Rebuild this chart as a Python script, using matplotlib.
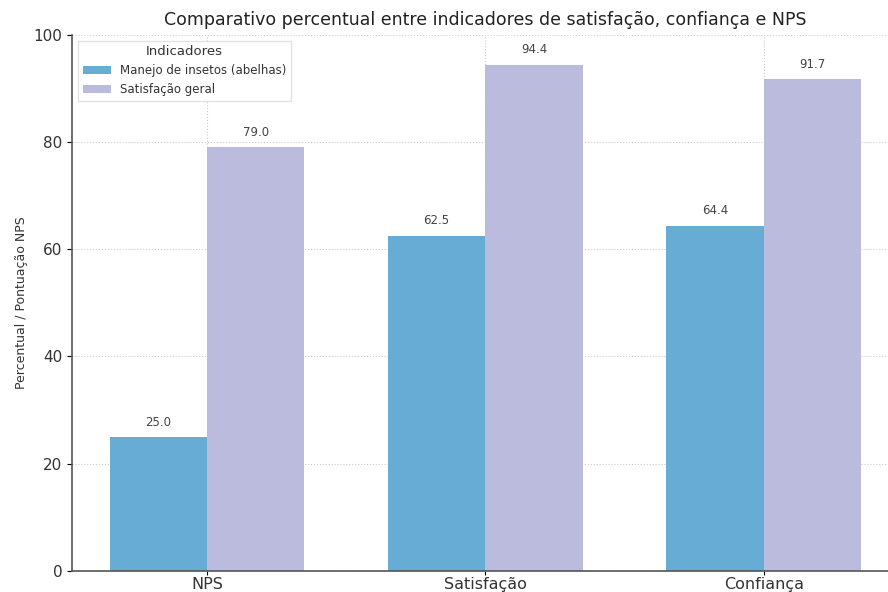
import matplotlib.pyplot as plt
import numpy as np

categorias = ["NPS", "Satisfação", "Confiança"]
manejo = [25.0, 62.5, 64.4]
satisfacao_geral = [79.0, 94.4, 91.7]
series_labels = ["Manejo de insetos (abelhas)", "Satisfação geral"]
cores = ["#67acd5", "#bbbcdd"]

fig = plt.figure(figsize=(8.88, 5.92), dpi=100)
ax = fig.add_axes([0.081, 0.0355, 0.931, 0.906])

x = np.arange(len(categorias))
w = 0.35
b1 = ax.bar(x - w / 2, manejo, w, color=cores[0], label=series_labels[0])
b2 = ax.bar(x + w / 2, satisfacao_geral, w, color=cores[1], label=series_labels[1])

for bars in (b1, b2):
    for r in bars:
        ax.annotate(f"{r.get_height():.1f}", (r.get_x() + r.get_width() / 2, r.get_height()),
                    xytext=(0, 6), textcoords="offset points", ha="center", va="bottom",
                    fontsize=8.5, color="#444444")

ax.set_xticks(x)
ax.set_xticklabels(categorias, fontsize=11.5, color="#333333")
ax.set_ylim(0, 100)
ax.set_xlim(-0.485, 2.485)
ax.tick_params(axis="x", length=3, pad=1)
ax.tick_params(axis="y", labelsize=11, labelcolor="#333333")
ax.set_ylabel("Percentual / Pontuação NPS", fontsize=9, color="#333333")
ax.set_title("Comparativo percentual entre indicadores de satisfação, confiança e NPS",
             fontsize=12.5, color="#222222", pad=7)

ax.grid(True, linestyle=":", color="#cccccc", linewidth=0.8)
ax.set_axisbelow(True)
for s in ("top", "right"):
    ax.spines[s].set_visible(False)
for s in ("left", "bottom"):
    ax.spines[s].set_color("#555555")
    ax.spines[s].set_linewidth(1.2)

leg = ax.legend(title="Indicadores", fontsize=8.5, title_fontsize=9.5, loc="upper left",
                frameon=True, fancybox=False, edgecolor="#dddddd", handlelength=2.4)
for t in leg.get_texts():
    t.set_color("#333333")
leg.get_title().set_color("#333333")

fig.savefig("out.png", dpi=100)
